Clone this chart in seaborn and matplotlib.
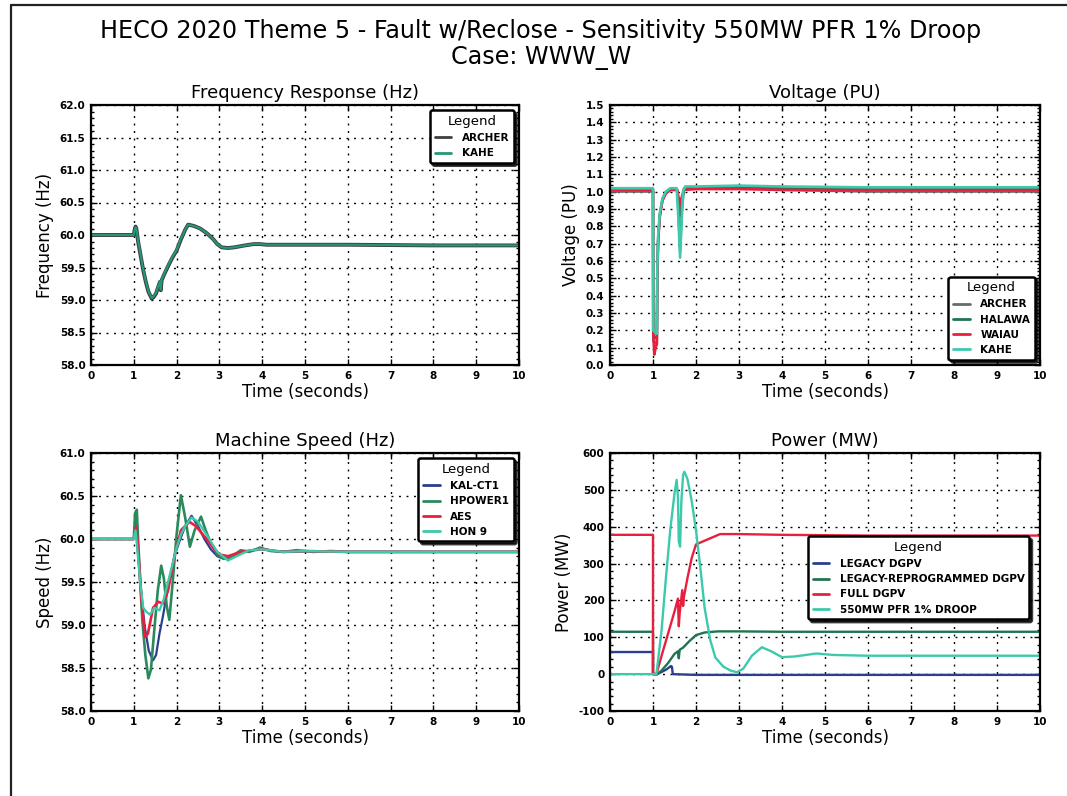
import matplotlib
matplotlib.use("Agg")
import matplotlib.pyplot as plt
from matplotlib.lines import Line2D
from matplotlib.ticker import MultipleLocator, FormatStrFormatter, AutoMinorLocator
import seaborn as sns

# ---------------- data ----------------
# Frequency response (Hz)
t_freq = [0, 1.0, 1.02, 1.04, 1.06, 1.1, 1.16, 1.22, 1.28, 1.34, 1.42, 1.47, 1.52, 1.58,
          1.61, 1.63, 1.65, 1.7, 1.8, 1.9, 2.0, 2.1, 2.2, 2.27, 2.4, 2.55, 2.7, 2.85,
          2.95, 3.05, 3.2, 3.35, 3.6, 3.8, 3.95, 4.1, 4.5, 6.0, 8.0, 10.0]
freq_archer = [60.0, 60.0, 60.08, 60.13, 60.1, 59.9, 59.68, 59.46, 59.28, 59.13, 59.02, 59.05,
               59.1, 59.22, 59.28, 59.15, 59.3, 59.38, 59.52, 59.65, 59.76, 59.93, 60.08, 60.16,
               60.14, 60.1, 60.03, 59.94, 59.86, 59.81, 59.8, 59.81, 59.84, 59.86, 59.86, 59.85,
               59.85, 59.85, 59.84, 59.84]
freq_kahe = [60.0, 60.0, 60.07, 60.12, 60.1, 59.91, 59.69, 59.47, 59.29, 59.14, 59.03, 59.06,
             59.11, 59.23, 59.29, 59.16, 59.31, 59.39, 59.53, 59.66, 59.77, 59.94, 60.08, 60.16,
             60.14, 60.1, 60.03, 59.94, 59.86, 59.81, 59.8, 59.81, 59.84, 59.86, 59.86, 59.85,
             59.85, 59.85, 59.84, 59.84]

# Voltage (PU)
t_v_archer = [0, 1.0, 1.005, 1.09, 1.1, 1.12, 1.16, 1.22, 1.3, 1.4, 1.56, 1.6, 1.63, 1.67,
              1.72, 2.0, 3.0, 4.0, 6.0, 10.0]
v_archer = [1.0, 1.0, 0.14, 0.12, 0.5, 0.72, 0.86, 0.95, 0.99, 1.01, 1.01, 0.93, 0.86, 0.95,
            1.01, 1.02, 1.025, 1.01, 1.0, 1.0]
t_v_halawa = [0, 1.0, 1.005, 1.09, 1.1, 1.12, 1.16, 1.22, 1.3, 1.4, 1.56, 1.6, 1.63, 1.67,
              1.72, 2.0, 3.0, 4.0, 6.0, 10.0]
v_halawa = [1.015, 1.015, 0.17, 0.15, 0.52, 0.74, 0.87, 0.96, 1.0, 1.015, 1.015, 0.82, 0.66,
            0.88, 1.02, 1.025, 1.03, 1.02, 1.015, 1.015]
t_v_waiau = [0, 1.0, 1.005, 1.03, 1.06, 1.09, 1.1, 1.12, 1.16, 1.22, 1.3, 1.4, 1.56, 1.6,
             1.63, 1.67, 1.72, 2.0, 3.0, 4.0, 6.0, 10.0]
v_waiau = [1.01, 1.01, 0.19, 0.06, 0.1, 0.12, 0.5, 0.72, 0.86, 0.95, 0.99, 1.01, 1.01, 0.96,
           0.93, 0.97, 1.01, 1.015, 1.015, 1.01, 1.01, 1.01]
t_v_kahe = [0, 1.0, 1.005, 1.09, 1.1, 1.12, 1.16, 1.22, 1.3, 1.4, 1.55, 1.58, 1.63, 1.67,
            1.7, 1.75, 2.0, 3.0, 4.0, 6.0, 10.0]
v_kahe = [1.02, 1.02, 0.2, 0.18, 0.55, 0.75, 0.88, 0.96, 1.0, 1.02, 1.02, 0.9, 0.62, 0.85,
          1.0, 1.03, 1.03, 1.035, 1.03, 1.025, 1.025]

# Machine speed (Hz)
t_kal = [0, 1.0, 1.04, 1.08, 1.15, 1.25, 1.35, 1.45, 1.52, 1.6, 1.68, 1.75, 1.85, 1.95,
         2.05, 2.2, 2.35, 2.5, 2.65, 2.8, 2.95, 3.1, 3.3, 3.5, 3.7, 3.95, 4.3, 4.7, 5.2,
         6.0, 8.0, 10.0]
spd_kal = [60.0, 60.0, 60.2, 59.95, 59.5, 59.0, 58.7, 58.59, 58.65, 58.9, 59.1, 59.3, 59.55,
           59.8, 59.95, 60.15, 60.27, 60.15, 60.0, 59.88, 59.8, 59.77, 59.78, 59.85, 59.86,
           59.89, 59.86, 59.85, 59.86, 59.85, 59.85, 59.85]
t_hpower = [0, 1.0, 1.03, 1.07, 1.1, 1.15, 1.2, 1.27, 1.34, 1.4, 1.48, 1.56, 1.64, 1.7,
            1.77, 1.83, 1.9, 2.0, 2.1, 2.2, 2.31, 2.42, 2.57, 2.68, 2.8, 2.95, 3.1, 3.3,
            3.5, 3.7, 3.95, 4.2, 4.5, 4.8, 5.2, 5.6, 6.0, 8.0, 10.0]
spd_hpower = [60.0, 60.0, 60.3, 60.34, 60.0, 59.5, 59.05, 58.65, 58.38, 58.48, 58.95, 59.4,
              59.69, 59.55, 59.22, 59.06, 59.45, 60.05, 60.51, 60.25, 59.91, 60.1, 60.26,
              60.1, 59.95, 59.82, 59.77, 59.8, 59.87, 59.85, 59.9, 59.86, 59.85, 59.87,
              59.85, 59.86, 59.85, 59.85, 59.85]
t_aes = [0, 1.0, 1.03, 1.06, 1.1, 1.18, 1.26, 1.33, 1.45, 1.57, 1.68, 1.8, 1.95, 2.1, 2.3,
         2.45, 2.7, 2.85, 3.0, 3.2, 3.5, 3.8, 4.0, 4.5, 5.0, 6.0, 8.0, 10.0]
spd_aes = [60.0, 60.0, 60.1, 60.14, 59.9, 59.3, 58.86, 58.9, 59.2, 59.27, 59.25, 59.4, 59.8,
           60.1, 60.2, 60.15, 60.0, 59.9, 59.82, 59.8, 59.85, 59.87, 59.88, 59.85, 59.86,
           59.85, 59.85, 59.85]
t_hon = [0, 1.0, 1.04, 1.08, 1.15, 1.22, 1.3, 1.38, 1.48, 1.6, 1.7, 1.8, 1.9, 2.0, 2.1, 2.2,
         2.35, 2.5, 2.7, 2.95, 3.2, 3.4, 3.7, 4.0, 4.5, 5.0, 6.0, 8.0, 10.0]
spd_hon = [60.0, 60.0, 60.1, 59.9, 59.5, 59.2, 59.15, 59.12, 59.2, 59.17, 59.3, 59.5, 59.7,
           59.9, 60.05, 60.15, 60.25, 60.2, 60.05, 59.85, 59.75, 59.8, 59.87, 59.88, 59.85,
           59.86, 59.85, 59.85, 59.85]

# Power (MW)
t_legacy = [0, 1.0, 1.0, 1.1, 1.3, 1.42, 1.44, 1.46, 2.0, 5.0, 10.0]
p_legacy = [60, 60, 0, 0, 12, 22, 20, 0, -2, -2, -2]
t_reprog = [0, 1.0, 1.0, 1.1, 1.2, 1.35, 1.5, 1.58, 1.6, 1.62, 1.7, 1.85, 2.0, 2.2, 2.5,
            3.0, 4.0, 6.0, 10.0]
p_reprog = [115, 115, 0, 0, 10, 30, 55, 62, 43, 66, 72, 90, 106, 113, 116, 116, 115, 115, 115]
t_full = [0, 1.0, 1.0, 1.08, 1.2, 1.35, 1.5, 1.58, 1.6, 1.62, 1.68, 1.7, 1.72, 1.8, 1.9,
          2.0, 2.2, 2.4, 2.56, 3.0, 4.0, 6.0, 10.0]
p_full = [378, 378, 0, 0, 50, 110, 170, 205, 130, 165, 228, 185, 210, 260, 315, 352, 362,
          372, 380, 380, 378, 376, 376]
t_pfr = [0, 1.0, 1.08, 1.2, 1.3, 1.4, 1.5, 1.55, 1.58, 1.6, 1.63, 1.66, 1.7, 1.73, 1.8,
         1.9, 2.0, 2.1, 2.2, 2.33, 2.45, 2.64, 2.8, 2.95, 3.1, 3.3, 3.53, 3.75, 4.0, 4.3,
         4.8, 5.2, 6.0, 8.0, 10.0]
p_pfr = [0, 0, 0, 120, 260, 390, 490, 527, 480, 360, 346, 470, 540, 549, 530, 470, 390, 290,
         180, 93, 45, 20, 10, 5, 15, 50, 73, 62, 46, 48, 56, 52, 50, 50, 50]

time_ticks = list(range(0, 11))

# ---------------- style ----------------
sns.set_theme(style="white")
plt.rcParams["font.family"] = ["DejaVu Sans"]
plt.rcParams.update({
    "xtick.direction": "in", "ytick.direction": "in",
    "xtick.top": True, "ytick.right": True,
    "xtick.bottom": True, "ytick.left": True,
    "xtick.major.size": 4, "ytick.major.size": 4,
    "ytick.minor.size": 2, "xtick.minor.size": 2,
    "xtick.major.width": 1.0, "ytick.major.width": 1.0,
    "xtick.color": "black", "ytick.color": "black",
    "axes.edgecolor": "black", "axes.linewidth": 1.6,
    "text.color": "black", "axes.labelcolor": "black",
})

fig = plt.figure(figsize=(10.67, 7.96), dpi=100)
W, H = 1067, 796


def make_axes(x0, y_top, x1, y_bot):
    return fig.add_axes([x0 / W, 1 - y_bot / H, (x1 - x0) / W, (y_bot - y_top) / H])


ax_f = make_axes(91, 105, 519, 365)
ax_v = make_axes(610, 105, 1040, 365)
ax_s = make_axes(91, 453, 519, 711)
ax_p = make_axes(610, 453, 1040, 711)

C_ARCHER = "#3f3f3f"
C_GRAY = "#6a6a6a"
C_DKGREEN = "#1f7451"
C_GREEN = "#2a8a5c"
C_RED = "#e8203f"
C_TEAL = "#3cc9ac"
C_BLUE = "#2b3f8e"


def draw(ax, series):
    for label, t, v, color, lw in series:
        sns.lineplot(x=t, y=v, ax=ax, color=color, linewidth=lw, label=label,
                     estimator=None, sort=False)


draw(ax_f, [("ARCHER", t_freq, freq_archer, C_ARCHER, 2.8),
            ("KAHE", t_freq, freq_kahe, "#24977a", 1.5)])
draw(ax_v, [("ARCHER", t_v_archer, v_archer, C_GRAY, 1.7),
            ("HALAWA", t_v_halawa, v_halawa, C_DKGREEN, 1.7),
            ("WAIAU", t_v_waiau, v_waiau, C_RED, 1.9),
            ("KAHE", t_v_kahe, v_kahe, C_TEAL, 1.9)])
draw(ax_s, [("KAL-CT1", t_kal, spd_kal, C_BLUE, 1.6),
            ("HPOWER1", t_hpower, spd_hpower, C_GREEN, 1.9),
            ("AES", t_aes, spd_aes, C_RED, 1.9),
            ("HON 9", t_hon, spd_hon, C_TEAL, 1.7)])
draw(ax_p, [("LEGACY DGPV", t_legacy, p_legacy, C_BLUE, 1.7),
            ("LEGACY-REPROGRAMMED DGPV", t_reprog, p_reprog, C_DKGREEN, 1.7),
            ("FULL DGPV", t_full, p_full, C_RED, 1.7),
            ("550MW PFR 1% DROOP", t_pfr, p_pfr, C_TEAL, 1.7)])

panels = [
    (ax_f, "Frequency Response (Hz)", "Frequency (Hz)", (58, 62), 0.5, "%.1f", "upper right", None),
    (ax_v, "Voltage (PU)", "Voltage (PU)", (0, 1.5), 0.1, "%.1f", "lower right", None),
    (ax_s, "Machine Speed (Hz)", "Speed (Hz)", (58, 61), 0.5, "%.1f", "upper right", None),
    (ax_p, "Power (MW)", "Power (MW)", (-100, 600), 100, "%d", "lower right", (0.987, 0.335)),
]

for ax, title, ylabel, ylim, ystep, yfmt, loc, anchor in panels:
    ax.set_xlim(0, 10)
    ax.set_ylim(*ylim)
    ax.set_xticks(time_ticks)
    ax.yaxis.set_major_locator(MultipleLocator(ystep))
    ax.yaxis.set_major_formatter(FormatStrFormatter(yfmt))
    ax.yaxis.set_minor_locator(AutoMinorLocator(5))
    ax.tick_params(axis="both", which="major", labelsize=7.5, pad=4)
    for lab in ax.get_xticklabels() + ax.get_yticklabels():
        lab.set_fontweight("bold")
    ax.grid(True, which="major", color="black", linestyle=(0, (1.4, 4)), linewidth=1.0)
    ax.set_title(title, fontsize=13, pad=5)
    ax.set_xlabel("Time (seconds)", fontsize=12, labelpad=2)
    ax.set_ylabel(ylabel, fontsize=12, labelpad=4)
    kw = dict(title="Legend", loc=loc, fontsize=7.5, title_fontsize=9.5, frameon=True,
              fancybox=True, shadow={"color": "black", "alpha": 0.75},
              framealpha=1.0, edgecolor="black",
              handlelength=1.6, borderpad=0.45, labelspacing=0.5, handletextpad=1.0)
    if anchor is not None:
        kw["bbox_to_anchor"] = anchor
    leg = ax.legend(**kw)
    leg.get_frame().set_linewidth(1.8)
    for txt in leg.get_texts():
        txt.set_fontweight("bold")
    for line in leg.get_lines():
        line.set_linewidth(2.0)

fig.text(0.507, 1 - 19 / H,
         "HECO 2020 Theme 5 - Fault w/Reclose - Sensitivity 550MW PFR 1% Droop\nCase: WWW_W",
         ha="center", va="top", fontsize=17.2, linespacing=1.08)

# page frame along the top and left edges
fig.add_artist(Line2D([11 / W, 11 / W], [0, 1 - 5 / H], transform=fig.transFigure,
                      color="#222222", linewidth=1.6))
fig.add_artist(Line2D([11 / W, 1], [1 - 5 / H, 1 - 5 / H], transform=fig.transFigure,
                      color="#222222", linewidth=1.6))

fig.savefig("out.png", dpi=100)
